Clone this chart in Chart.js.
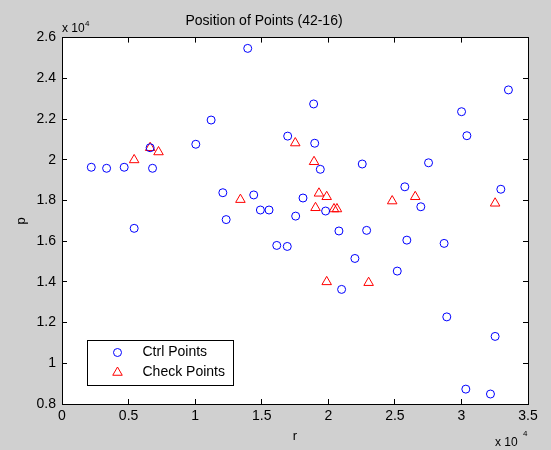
<!DOCTYPE html>
<html>
<head>
<meta charset="utf-8">
<script src="https://cdn.jsdelivr.net/npm/chart.js@4"></script>
<style>
html,body{margin:0;padding:0;background:#d0d0d0;}
canvas{display:block;}
</style>
</head>
<body>
<canvas id="c" width="551" height="450"></canvas>
<script>
// ---- data ----
const chartTitle = 'Position of Points (42-16)';
const xAxisTitle = 'r';
const yAxisTitle = 'p';
const exponentText = 'x 10';
const exponentPower = '4';

const ctrlLabel = 'Ctrl Points';
const ctrlR = [2200, 3350, 4670, 6800, 6620, 5420, 10050, 11200, 13950, 12080, 12330, 14400, 14900, 15550, 16130, 16920, 16950, 17550, 18100, 18900, 18980, 19400, 19800, 20800, 21000, 22000, 22550, 22880, 25180, 25750, 25900, 26950, 27530, 28700, 28900, 30010, 30410, 32530, 32960, 33530, 30330, 32180];
const ctrlP = [19630, 19580, 19630, 19580, 20590, 16630, 20760, 21950, 25470, 18380, 17060, 18270, 17530, 17530, 15790, 15740, 21160, 17230, 18120, 22740, 20810, 19530, 17480, 16500, 13630, 15150, 19790, 16530, 14530, 18670, 16050, 17690, 19850, 15890, 12280, 22360, 21180, 11320, 18550, 23430, 8730, 8490];

const checkLabel = 'Check Points';
const checkR = [5420, 6620, 7250, 13400, 17520, 18930, 19300, 19880, 19040, 20430, 20650, 19880, 23030, 24800, 26530, 32530];
const checkP = [19990, 20590, 20380, 18040, 20820, 19900, 18350, 18180, 17640, 17580, 17580, 14000, 13960, 17970, 18180, 17860];

const xTickValues = [0, 5000, 10000, 15000, 20000, 25000, 30000, 35000];
const xTickLabels = ['0', '0.5', '1', '1.5', '2', '2.5', '3', '3.5'];
const yTickValues = [8000, 10000, 12000, 14000, 16000, 18000, 20000, 22000, 24000, 26000];
const yTickLabels = ['0.8', '1', '1.2', '1.4', '1.6', '1.8', '2', '2.2', '2.4', '2.6'];

// ---- styles ----
const FONT = '"Liberation Sans", Arial, Helvetica, sans-serif';
const BG = '#d0d0d0';
const ctrlColor = '#0000ff';
const checkColor = '#ff0000';

const toPoints = (xs, ys) => xs.map((x, i) => ({x: x, y: ys[i]}));
const gridOpts = () => ({drawOnChartArea: false, color: '#000000', tickLength: -5});
const borderOpts = () => ({display: true, color: '#000000', width: 1});

const decorPlugin = {
  id: 'decor',
  beforeDraw(chart) {
    const {ctx, chartArea: a} = chart;
    ctx.save();
    ctx.fillStyle = BG;
    ctx.fillRect(0, 0, chart.width, chart.height);
    ctx.fillStyle = '#ffffff';
    ctx.fillRect(a.left, a.top, a.right - a.left, a.bottom - a.top);
    ctx.restore();
  },
  afterDraw(chart) {
    const {ctx, chartArea: a} = chart;
    ctx.save();
    ctx.setTransform(1, 0, 0, 1, 0, 0);
    ctx.globalAlpha = 1;
    ctx.globalCompositeOperation = 'source-over';
    // frame
    ctx.strokeStyle = '#000000';
    ctx.lineWidth = 1;
    ctx.setLineDash([]);
    ctx.strokeRect(Math.round(a.left) + 0.5, Math.floor(a.top) + 0.5, Math.round(a.right - a.left), Math.round(a.bottom) - Math.floor(a.top));
    // exponent labels
    ctx.fillStyle = '#000000';
    ctx.textBaseline = 'middle';
    ctx.textAlign = 'left';
    ctx.font = '12px ' + FONT;
    ctx.fillText(exponentText, a.left, a.top - 9);
    ctx.fillText(exponentText, a.right - 33, chart.height - 7);
    ctx.font = '8px ' + FONT;
    ctx.fillText(exponentPower, a.left + 23, a.top - 14);
    ctx.fillText(exponentPower, a.right - 5, chart.height - 16);

    // legend box
    const lx = Math.round(a.left) + 25, ly = Math.round(a.top) + 302, lw = 146, lh = 45;
    ctx.fillStyle = '#ffffff';
    ctx.fillRect(lx, ly, lw, lh);
    ctx.strokeStyle = '#000000';
    ctx.strokeRect(lx + 0.5, ly + 0.5, lw, lh);
    ctx.font = '14px ' + FONT;
    chart.data.datasets.forEach((ds, i) => {
      const cy = ly + 12.5 + i * 20;
      ctx.fillStyle = 'rgba(0,0,0,0)';
      ctx.strokeStyle = ds.pointBorderColor;
      ctx.lineWidth = 1;
      Chart.helpers.drawPoint(ctx, {pointStyle: ds.pointStyle, radius: ds.pointRadius, borderWidth: 1, rotation: 0}, lx + 30.5, cy);
      ctx.fillStyle = '#000000';
      ctx.fillText(ds.label, lx + 55.5, cy);
    });
    ctx.restore();
  }
};

const chart = new Chart(document.getElementById('c'), {
  type: 'scatter',
  data: {
    datasets: [
      {
        label: ctrlLabel,
        data: toPoints(ctrlR, ctrlP),
        pointStyle: 'circle',
        pointRadius: 4,
        pointBorderWidth: 1,
        borderColor: ctrlColor,
        pointBorderColor: ctrlColor,
        backgroundColor: 'rgba(0,0,0,0)',
        pointBackgroundColor: 'rgba(0,0,0,0)'
      },
      {
        label: checkLabel,
        data: toPoints(checkR, checkP),
        pointStyle: 'triangle',
        pointRadius: 5.5,
        pointBorderWidth: 1,
        borderColor: checkColor,
        pointBorderColor: checkColor,
        backgroundColor: 'rgba(0,0,0,0)',
        pointBackgroundColor: 'rgba(0,0,0,0)'
      }
    ]
  },
  options: {
    responsive: false,
    devicePixelRatio: 1,
    animation: false,
    events: [],
    layout: {padding: {left: 0, right: 23, top: 0, bottom: 0}},
    plugins: {
      legend: {display: false},
      tooltip: {enabled: false},
      title: {
        display: true,
        text: chartTitle,
        color: '#000',
        font: {family: FONT, size: 14, weight: 'normal'},
        padding: {top: 13, bottom: 7.8}
      }
    },
    scales: {
      x: {
        type: 'linear',
        position: 'bottom',
        min: 0, max: 35000,
        afterBuildTicks: s => { s.ticks = xTickValues.map(v => ({value: v})); },
        afterFit: s => { s.height = 46; },
        grid: gridOpts(),
        border: borderOpts(),
        ticks: {
          color: '#000', padding: 9, maxRotation: 0, autoSkip: false,
          font: {family: FONT, size: 14},
          callback: (v, i) => xTickLabels[i]
        },
        title: {
          display: true, text: xAxisTitle, color: '#000',
          font: {family: FONT, size: 13},
          padding: {top: 0, bottom: 6}
        }
      },
      x2: {
        type: 'linear',
        position: 'top',
        min: 0, max: 35000,
        afterBuildTicks: s => { s.ticks = xTickValues.map(v => ({value: v})); },
        afterFit: s => { s.height = 0; },
        grid: gridOpts(),
        border: borderOpts(),
        ticks: {display: false}
      },
      y: {
        type: 'linear',
        position: 'left',
        min: 8000, max: 26000,
        afterBuildTicks: s => { s.ticks = yTickValues.map(v => ({value: v})); },
        afterFit: s => { s.width = 62; },
        grid: gridOpts(),
        border: borderOpts(),
        ticks: {
          color: '#000', padding: 11, autoSkip: false,
          font: {family: FONT, size: 14},
          callback: (v, i) => yTickLabels[i]
        },
        title: {
          display: true, text: yAxisTitle, color: '#000',
          font: {family: FONT, size: 13},
          padding: {top: 14, bottom: 0}
        }
      },
      y2: {
        type: 'linear',
        position: 'right',
        min: 8000, max: 26000,
        afterBuildTicks: s => { s.ticks = yTickValues.map(v => ({value: v})); },
        afterFit: s => { s.width = 0; },
        grid: gridOpts(),
        border: borderOpts(),
        ticks: {display: false}
      }
    }
  },
  plugins: [decorPlugin]
});
</script>
</body>
</html>
